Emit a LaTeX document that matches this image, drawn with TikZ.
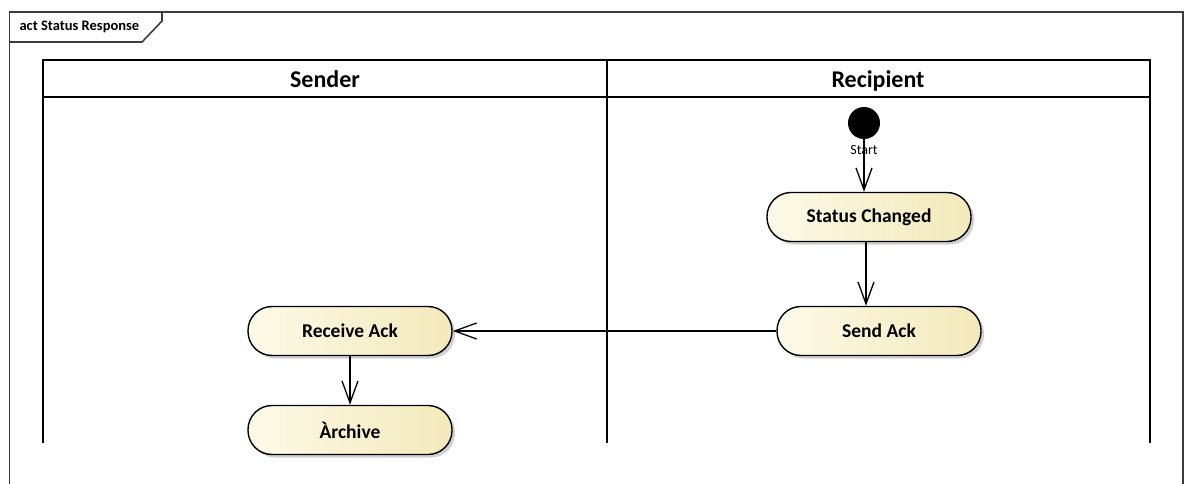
\documentclass[tikz,border=0pt]{standalone}
\usepackage{fontspec}
\setmainfont{Carlito}
\usepackage{tikz}
\usetikzlibrary{arrows.meta}
\usetikzlibrary{shadows}
\definecolor{actleft}{RGB}{253,250,232}
\definecolor{actright}{RGB}{243,233,186}
\definecolor{framegray}{RGB}{60,60,60}

\begin{document}
\begin{tikzpicture}[x=1pt,y=-1pt,
    lane/.style={line width=2pt,black},
    lanehead/.style={anchor=base,font=\fontsize{24}{26}\selectfont\bfseries},
    action/.style={draw=black,line width=1.4pt,rounded corners=24pt,minimum width=204pt,minimum height=49pt,
        left color=actleft,right color=actright,font=\fontsize{19.5}{22}\selectfont\bfseries,
        drop shadow={shadow xshift=3pt,shadow yshift=-3pt,fill=black,opacity=0.18}},
    flow/.style={line width=1.3pt,-{Straight Barb[length=22pt,width=16pt,line width=1.3pt]}}]
            \useasboundingbox (0,0) rectangle (1186,484);
            \draw[line width=1.6pt,framegray] (9.5,484) -- (9.5,12) -- (1183,12) -- (1183,484);
            \draw[line width=1.6pt,framegray] (9.5,42) -- (142,42) -- (162,21) -- (162,12);
            \node[anchor=west,font=\fontsize{14.5}{16}\selectfont\bfseries] (title) at (16,27) {act Status Response};
            \draw[lane] (43,443) -- (43,60) -- (1150,60) -- (1150,443);
            \draw[lane] (43,97) -- (1150,97) (607,60) -- (607,443);
            \node[lanehead] (sender) at (325,88) {Sender};
            \node[lanehead] (recipient) at (878,88) {Recipient};
            \node[circle,fill=black,minimum size=32pt,inner sep=0pt] (start) at (864,123) {};
            \node[font=\fontsize{14}{16}\selectfont] (startlbl) at (864,150) {Start};
            \node[action] (statuschg) at (869,217) {Status Changed};
            \node[action] (sendack) at (879,331) {Send Ack};
            \node[action] (recvack) at (350,331) {Receive Ack};
            \node[action] (archive) at (350,430) {Àrchive};
            \draw[flow] (start.south) -- (start.south |- statuschg.north);
            \draw[flow] ([xshift=-3pt]statuschg.south) -- ([xshift=-3pt]statuschg.south |- sendack.north);
            \draw[flow] (sendack.west) -- (recvack.east);
            \draw[flow] (recvack.south) -- (archive.north);
        \end{tikzpicture}
\end{document}
